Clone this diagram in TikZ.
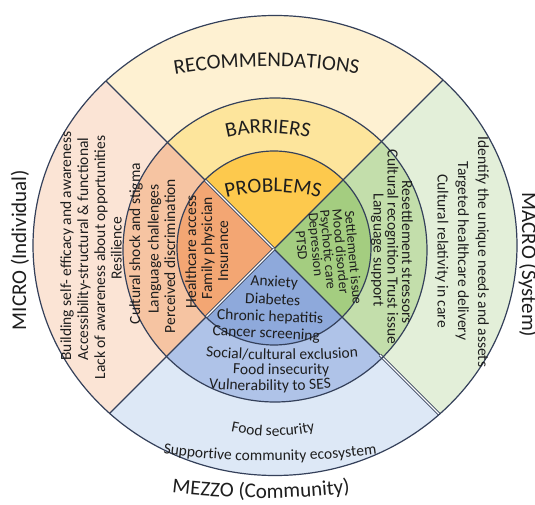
\documentclass[tikz,border=0pt]{standalone}
\usepackage{fontspec}
\setmainfont{Carlito}
\usetikzlibrary{decorations.text}
\definecolor{lc}{HTML}{34405A}
\definecolor{tc}{HTML}{1E1E1E}
\definecolor{oT}{HTML}{FEF1D2}
\definecolor{oL}{HTML}{FBE4D5}
\definecolor{oR}{HTML}{E3EFD9}
\definecolor{oB}{HTML}{DDE8F6}
\definecolor{mT}{HTML}{FDE59C}
\definecolor{mL}{HTML}{F6C4A2}
\definecolor{mR}{HTML}{C3DEAB}
\definecolor{mB}{HTML}{AFC3E8}
\definecolor{iT}{HTML}{FDC94D}
\definecolor{iL}{HTML}{F3A673}
\definecolor{iR}{HTML}{A4CD80}
\definecolor{iB}{HTML}{8EA9DB}
\newcommand\BodyFont{\fontsize{15.5}{16}\selectfont}
\newcommand\SmallFont{\fontsize{14}{15}\selectfont}
\newcommand\TitleFont{\fontsize{21}{21}\selectfont}
% #1 x, #2 apex baseline y, #3 radius, #4 half angle, #5 text
\newcommand\ArcTop[5]{\path[decorate,decoration={text along path,text align=center,text color=tc,text={#5}}] (#1,#2-#3) ++(90+#4:#3) arc[start angle=90+#4,end angle=90-#4,radius=#3];}
\newcommand\ArcBot[5]{\path[decorate,decoration={text along path,text align=center,text color=tc,text={#5}}] (#1,#2+#3) ++(270-#4:#3) arc[start angle=270-#4,end angle=270+#4,radius=#3];}
\begin{document}
\begin{tikzpicture}[x=1pt,y=1pt,
  bt/.style={font=\BodyFont, text=tc, inner sep=0pt, anchor=base},
  st/.style={font=\SmallFont, text=tc, inner sep=0pt, anchor=base},
  tt/.style={font=\TitleFont, text=tc, inner sep=0pt, anchor=base},
  ring/.style={draw=lc, line width=1.2pt},
  divd/.style={draw=lc, line width=1.3pt},
  divw/.style={draw=lc, line width=0.9pt, double=white, double distance=1.2pt}]
\useasboundingbox (0,0) rectangle (535,504);
\fill[white] (0,0) rectangle (535,504);
\coordinate (C) at (274,255);
\coordinate (O) at (275,258.5);
\coordinate (M) at (275,254);
\coordinate (I) at (274,256);
% sectors
\foreach \a/\oc/\mc/\ic in {90/oT/mT/iT,180/oL/mL/iL,270/oB/mB/iB,0/oR/mR/iR}{
  \begin{scope}
    \clip (C) -- +(\a-45:600) -- +(\a:849) -- +(\a+45:600) -- cycle;
    \fill[\oc] (O) ellipse[x radius=242,y radius=230];
    \fill[\mc] (M) circle[radius=152];
    \fill[\ic] (I) circle[radius=97];
  \end{scope}
}
% dividers
\begin{scope}
  \clip (O) ellipse[x radius=242,y radius=230];
  \foreach \a in {45,135,225,315} \draw[divd] (C) -- +(\a:400);
  \draw[divw] (C) ++(315:150) -- +(315:200);
\end{scope}
\begin{scope}
  \clip (I) circle[radius=96.5];
  \foreach \a in {135,225} \draw[divw] (C) -- +(\a:120);
\end{scope}
% rings
\draw[ring] (O) ellipse[x radius=242,y radius=230];
\draw[ring] (M) circle[radius=152];
\draw[ring] (I) circle[radius=97];
% curved titles
\ArcTop{266.5}{437.5}{540}{14}{|\TitleFont|RECOMMENDATIONS}
\ArcTop{268}{371}{170}{20}{|\TitleFont|BARRIERS}
\ArcTop{273}{312}{190}{22}{|\TitleFont|PROBLEMS}
\ArcBot{261}{6}{770}{10}{|\TitleFont|MEZZO (Community)}
% bottom outer
\ArcBot{273}{68}{200}{18}{|\BodyFont|Food security}
\ArcBot{270}{43}{800}{11}{|\BodyFont|Supportive community ecosystem}
% bottom middle
\ArcBot{282}{144}{900}{8}{|\BodyFont|Social/cultural exclusion}
\ArcBot{281}{129}{900}{6}{|\BodyFont|Food insecurity}
\ArcBot{270}{113}{700}{8}{|\BodyFont|Vulnerability to SES}
% bottom inner
\node[bt, rotate=-3] (b1) at (274,217.3) {Anxiety};
\node[bt, rotate=-3] (b2) at (272.5,199.5) {Diabetes};
\node[bt, rotate=-2] (b3) at (270,182.5) {Chronic hepatitis};
\node[bt, rotate=-3] (b4) at (266,166) {Cancer screening};
% side titles
\node[tt, rotate=90] (micro) at (26,254) {MICRO (Individual)};
\node[tt, rotate=-90] (macro) at (522,239) {MACRO (System)};
% left outer
\node[bt, rotate=90] (l1) at (71,258) {Building self- efficacy and awareness};
\node[bt, rotate=90] (l2) at (88,255) {Accessibility-structural \& functional};
\node[bt, rotate=90] (l3) at (105,246.5) {Lack of awareness about opportunities};
\node[bt, rotate=90] (l4) at (121.5,255.5) {Resilience};
% left middle
\node[bt, rotate=90] (lm1) at (140,260.5) {Cultural shock and stigma};
\node[bt, rotate=90] (lm2) at (158.5,255) {Language challenges};
\node[bt, rotate=90] (lm3) at (175,248) {Perceived discrimination};
% left inner
\node[bt, rotate=90] (li1) at (196,252) {Healthcare access};
\node[bt, rotate=90] (li2) at (212,256) {Family physician};
\node[bt, rotate=90] (li3) at (228,253) {Insurance};
% right outer
\node[bt, rotate=-90] (r1) at (478,252) {Identify the unique needs and assets};
\node[bt, rotate=-90] (r2) at (458,253) {Targeted healthcare delivery};
\node[bt, rotate=-90] (r3) at (437.5,253) {Cultural relativity in care};
% right middle
\node[bt, rotate=-90] (rm1) at (402,252) {Resettlement stressors};
\node[bt, rotate=-90] (rm2) at (387.5,257) {Cultural recognition Trust issue};
\node[bt, rotate=-90] (rm3) at (373.5,254) {Language support};
% right inner
\node[st, rotate=-85] (ri1) at (349,246) {Settlement issue};
\node[st, rotate=-85] (ri2) at (336,252) {Mood disorder};
\node[st, rotate=-85] (ri3) at (323.5,254) {Psychotic care};
\node[st, rotate=-85] (ri4) at (311.5,259) {Depression};
\node[st, rotate=-85] (ri5) at (297,258) {PTSD};
\end{tikzpicture}
\end{document}
